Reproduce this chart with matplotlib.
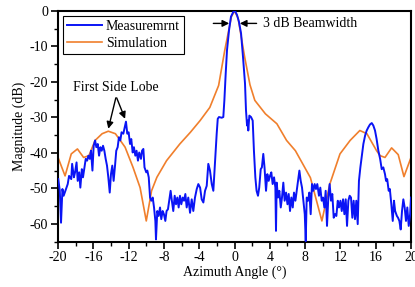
#!/usr/bin/env python3
"""Azimuth pattern: measured vs simulated magnitude."""
import matplotlib
matplotlib.use("Agg")
import matplotlib.pyplot as plt
from matplotlib.ticker import MultipleLocator

# simulated pattern
sim_angle = [-20, -19.2, -18.5, -17.8, -17.1, -16.5, -15.8, -15.0, -14.3, -13.5,
             -12.8, -12.4, -11.5, -10.7, -10.0, -9.4, -8.8, -7.7, -6.2, -5.0,
             -3.9, -2.8, -1.8, -1.1, -0.35, 0, 0.4, 1.15, 1.75, 2.3,
             3.5, 4.8, 5.9, 6.9, 8.6, 9.9, 10.8, 11.95, 13.1, 14.2,
             15.0, 16.1, 16.5, 17.05, 17.8, 18.55, 19.2, 20]
sim_db = [-41.3, -46.5, -40.3, -38.9, -41.3, -40.8, -36.5, -34.6, -33.9, -34.6,
          -37.0, -38.4, -44.1, -49.8, -59.2, -50.7, -46.9, -42.2, -37.5, -34.2,
          -30.9, -27.2, -21.0, -11.0, -1.6, 0, -2.0, -13.0, -20.8, -25.2,
          -29.0, -31.8, -36.5, -39.4, -47.0, -59.2, -48.8, -40.3, -36.5, -33.7,
          -34.6, -39.4, -40.8, -41.3, -38.6, -40.5, -46.7, -41.3]

# measured pattern
meas_angle = [
    -19.97, -19.8, -19.66, -19.5, -19.36, -19.1, -18.9, -18.75, -18.5, -18.4,
    -18.2, -18.07, -17.9, -17.77, -17.6, -17.47, -17.3, -17.17, -17.0, -16.86,
    -16.7, -16.56, -16.4, -16.26, -16.1, -15.96, -15.8, -15.66, -15.5, -15.35,
    -15.2, -15.05, -14.9, -14.75, -14.6, -14.45, -14.3, -14.14, -14.0, -13.85,
    -13.7, -13.54, -13.4, -13.24, -13.1, -12.94, -12.8, -12.6, -12.44, -12.3,
    -12.15, -12.0, -11.84, -11.7, -11.54, -11.4, -11.24, -11.1, -10.94, -10.8,
    -10.6, -10.48, -10.33, -10.2, -10.0, -9.88, -9.72, -9.57, -9.43, -9.27,
    -9.12, -8.97, -8.9, -8.75, -8.6, -8.44, -8.3, -8.14, -8.0, -7.84,
    -7.7, -7.54, -7.4, -7.24, -7.1, -6.94, -6.78, -6.63, -6.48, -6.33,
    -6.18, -6.03, -5.87, -5.72, -5.57, -5.42, -5.24, -5.04, -4.85, -4.67,
    -4.48, -4.28, -4.1, -3.9, -3.72, -3.53, -3.34, -3.15, -2.97, -2.78,
    -2.58, -2.4, -2.2, -2.02, -1.9, -1.76, -1.45, -1.27, -1.15, -1.0,
    -0.85, -0.62, -0.4, -0.13, 0.06, 0.28, 0.5, 0.74, 0.96, 1.19,
    1.3, 1.42, 1.5, 1.56, 1.68, 1.87, 2.06, 2.2, 2.36, 2.5,
    2.66, 2.8, 2.97, 3.1, 3.26, 3.4, 3.57, 3.72, 3.87, 4.02,
    4.17, 4.32, 4.48, 4.63, 4.7, 4.78, 4.93, 5.08, 5.24, 5.38,
    5.53, 5.68, 5.84, 6.0, 6.14, 6.29, 6.44, 6.6, 6.74, 6.9,
    7.05, 7.2, 7.35, 7.5, 7.65, 7.8, 7.96, 8.07, 8.18, 8.33,
    8.48, 8.63, 8.78, 8.93, 9.08, 9.23, 9.38, 9.57, 9.72, 9.88,
    10.03, 10.18, 10.33, 10.48, 10.63, 10.78, 10.93, 11.08, 11.24, 11.39,
    11.54, 11.7, 11.84, 12.0, 12.15, 12.3, 12.45, 12.6, 12.75, 12.9,
    13.05, 13.2, 13.35, 13.5, 13.65, 13.8, 13.96, 14.1, 14.26, 14.4,
    14.6, 14.8, 14.98, 15.16, 15.35, 15.55, 15.73, 15.92, 16.1, 16.3,
    16.5, 16.68, 16.86, 17.05, 17.17, 17.3, 17.47, 17.6, 17.77, 17.93,
    18.07, 18.2, 18.4, 18.53, 18.68, 18.83, 18.98, 19.13, 19.28, 19.43,
    19.58, 19.74, 19.9, 20.0]
meas_db = [
    -47.4, -50.7, -59.7, -50.2, -52.1, -50.2, -48.8, -46.5, -47.4, -43.1,
    -46.9, -45.5, -42.7, -47.9, -45.5, -49.8, -44.6, -46.9, -44.1, -41.7,
    -42.2, -40.8, -41.7, -39.4, -45.0, -38.0, -36.5, -38.4, -37.5, -40.8,
    -38.4, -39.4, -38.0, -39.4, -41.7, -43.6, -46.9, -51.2, -46.0, -43.6,
    -47.9, -43.6, -39.4, -38.4, -35.6, -36.5, -34.2, -34.6, -32.8, -31.2,
    -34.6, -34.2, -37.5, -36.1, -39.9, -38.4, -40.8, -39.4, -42.2, -39.9,
    -41.7, -39.4, -38.9, -44.1, -45.5, -45.0, -46.9, -52.6, -53.5, -52.6,
    -55.4, -59.2, -64.4, -56.4, -57.8, -55.4, -58.7, -56.4, -57.3, -59.2,
    -56.4, -55.9, -53.5, -50.7, -53.5, -56.4, -52.1, -54.5, -52.6, -55.4,
    -52.1, -54.5, -52.6, -53.5, -51.6, -55.4, -52.6, -56.9, -53.1, -56.4,
    -52.6, -50.2, -48.8, -49.8, -53.1, -54.0, -50.7, -49.3, -43.1, -45.0,
    -48.8, -50.7, -42.2, -34.6, -30.4, -29.9, -30.1, -29.9, -25.2, -17.7,
    -11.0, -5.4, -1.6, -0.2, 0.0, -1.1, -3.0, -6.3, -12.9, -20.5,
    -28.0, -32.3, -30.9, -33.7, -29.5, -29.9, -30.9, -39.4, -46.9, -50.7,
    -52.1, -49.8, -44.6, -44.1, -40.3, -44.1, -50.7, -46.0, -47.9, -46.5,
    -45.5, -48.8, -46.9, -49.8, -62.0, -48.4, -52.6, -50.7, -55.4, -52.6,
    -48.4, -53.5, -51.2, -54.5, -51.6, -56.4, -52.6, -55.4, -51.2, -53.5,
    -50.7, -47.9, -45.0, -47.9, -49.8, -53.5, -57.3, -64.9, -52.6, -53.5,
    -51.2, -57.3, -48.8, -50.7, -48.8, -50.2, -48.8, -52.1, -49.8, -53.5,
    -52.6, -55.4, -50.7, -60.6, -52.6, -48.8, -53.5, -51.6, -58.3, -57.3,
    -57.8, -53.5, -55.4, -53.5, -56.4, -53.1, -57.3, -53.1, -60.6, -53.5,
    -52.1, -52.6, -58.3, -53.5, -58.7, -53.5, -60.1, -47.9, -44.1, -41.3,
    -37.5, -35.1, -33.7, -32.8, -32.0, -31.6, -32.3, -33.7, -36.1, -39.4,
    -41.7, -44.6, -44.1, -46.0, -47.9, -47.4, -50.7, -50.2, -54.5, -59.2,
    -53.5, -56.4, -57.8, -58.3, -59.2, -61.6, -56.4, -53.1, -55.4, -59.2,
    -55.4, -60.6, -57.3, -52.6]

x_ticks = [-20, -16, -12, -8, -4, 0, 4, 8, 12, 16, 20]
y_ticks = [0, -10, -20, -30, -40, -50, -60]

plt.rcParams["font.family"] = ["Liberation Serif", "DejaVu Serif"]
plt.rcParams["font.size"] = 10
plt.rcParams["axes.unicode_minus"] = False

fig = plt.figure(figsize=(4.15, 2.87), dpi=100)
ax = fig.add_axes([0.1398, 0.1585, 0.8506, 0.8032])

ax.plot(meas_angle, meas_db, color="#0a14f5", lw=1.4, label="Measuremrnt", zorder=3)
ax.plot(sim_angle, sim_db, color="#f07f2c", lw=1.2, label="Simulation", zorder=2)

ax.set_xlim(-20, 20)
ax.set_ylim(-65, 0)
ax.set_xticks(x_ticks)
ax.set_yticks(y_ticks)
ax.xaxis.set_minor_locator(MultipleLocator(2))
ax.yaxis.set_minor_locator(MultipleLocator(5))
ax.tick_params(which="major", direction="out", length=5, width=1.2, pad=2)
ax.tick_params(which="minor", direction="out", length=3, width=1.0)
for s in ax.spines.values():
    s.set_linewidth(1.5)

ax.set_xlabel("Azimuth Angle (°)", labelpad=1)
ax.set_ylabel("Magnitude (dB)", labelpad=3)

leg = ax.legend(loc="upper left", bbox_to_anchor=(0.0, 1.0), fancybox=False,
                edgecolor="black", framealpha=1, handlelength=2.5,
                borderpad=0.3, labelspacing=0.3, handletextpad=0.3,
                borderaxespad=0.35)
leg.get_frame().set_linewidth(0.8)

# annotations
arrow = dict(arrowstyle="-|>", color="black", lw=1.0, mutation_scale=10,
             shrinkA=0, shrinkB=0)
ax.text(-13.4, -21.5, "First Side Lobe", ha="center", va="center")
ax.annotate("", xy=(-14.3, -33.2), xytext=(-13.45, -24.5), arrowprops=arrow)
ax.annotate("", xy=(-12.4, -30.4), xytext=(-13.35, -24.5), arrowprops=arrow)

ax.annotate("", xy=(-0.6, -3.5), xytext=(-2.4, -3.5), arrowprops=arrow)
ax.annotate("", xy=(0.6, -3.5), xytext=(2.5, -3.5), arrowprops=arrow)
ax.text(3.2, -3.5, "3 dB Beamwidth", ha="left", va="center")

fig.savefig("out.png", dpi=100)
